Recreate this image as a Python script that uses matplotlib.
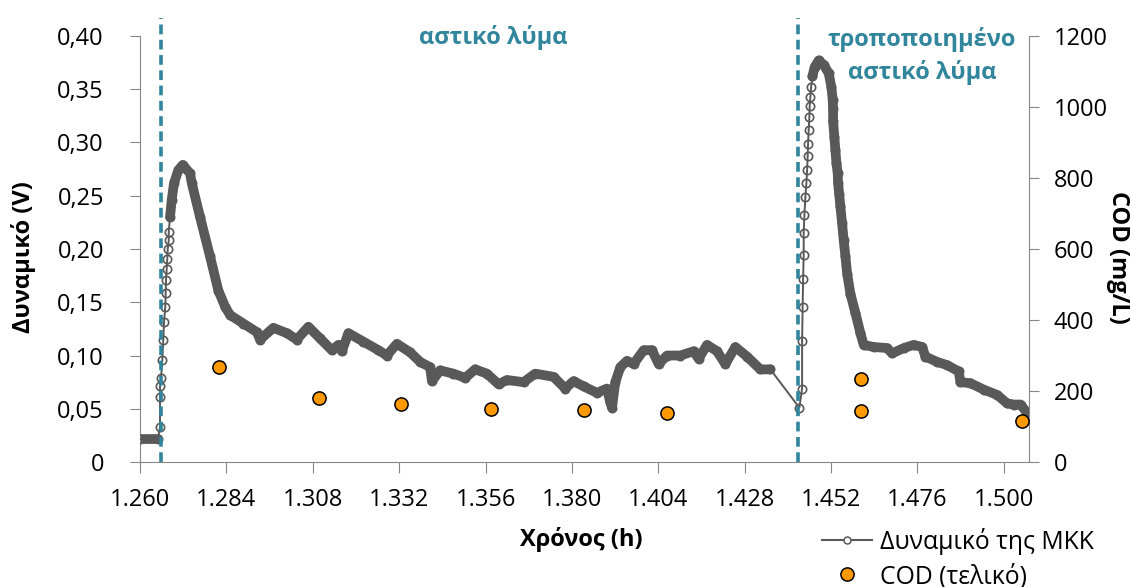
import matplotlib
matplotlib.use('Agg')
import matplotlib.pyplot as plt
from matplotlib.ticker import FuncFormatter, MultipleLocator
from matplotlib.lines import Line2D
import numpy as np

plt.rcParams['font.family'] = ['Open Sans', 'DejaVu Sans']
plt.rcParams['lines.scale_dashes'] = False

# MFC potential (V) vs time (h)
time_h = [1260.0, 1265.0, 1265.56, 1265.56, 1265.56, 1265.84, 1266.2, 1266.48, 1266.67,
          1267.03, 1267.14, 1267.23, 1267.42, 1267.59, 1267.70, 1267.98, 1267.98, 1268.34,
          1268.81, 1269.45, 1270.65, 1271.87, 1273.90, 1274.37, 1276.68, 1279.46, 1281.77,
          1283.63, 1285.02, 1288.72, 1292.44, 1293.36, 1297.06, 1300.78, 1303.56, 1306.79,
          1310.04, 1313.30, 1315.13, 1316.08, 1317.91, 1322.08, 1326.25, 1328.59, 1331.37,
          1335.06, 1337.84, 1340.62, 1341.10, 1343.40, 1347.10, 1350.35, 1353.13, 1356.39,
          1359.61, 1361.95, 1366.56, 1369.81, 1374.90, 1378.15, 1380.46, 1383.24, 1386.97,
          1389.75, 1390.67, 1391.14, 1392.06, 1393.45, 1395.31, 1397.15, 1399.93, 1402.26,
          1404.10, 1406.43, 1410.12, 1413.82, 1415.21, 1417.55, 1420.33, 1422.63, 1425.41,
          1428.67, 1432.36, 1435.15, 1443.2, 1443.96, 1443.96, 1444.12, 1444.24, 1444.40,
          1444.40, 1444.60, 1444.88, 1445.15, 1445.35, 1445.51, 1445.62, 1445.79, 1445.98,
          1446.07, 1446.26, 1446.46, 1446.82, 1447.46, 1448.57, 1449.96, 1451.35, 1452.10,
          1452.46, 1452.57, 1452.57, 1452.94, 1453.21, 1453.49, 1453.85, 1453.96, 1454.24,
          1454.60, 1455.08, 1455.52, 1456.0, 1456.47, 1457.38, 1458.77, 1460.16, 1461.08,
          1463.86, 1467.58, 1468.97, 1472.20, 1474.98, 1477.32, 1478.23, 1481.49, 1484.27,
          1487.49, 1487.96, 1490.75, 1494.44, 1498.17, 1500.95, 1502.79, 1504.65, 1506.51]
potential_v = [0.0216, 0.0216, 0.033, 0.061, 0.071, 0.079, 0.096, 0.115, 0.131,
               0.146, 0.159, 0.171, 0.181, 0.191, 0.200, 0.208, 0.216, 0.230,
               0.246, 0.262, 0.274, 0.279, 0.271, 0.262, 0.230, 0.193, 0.161,
               0.146, 0.138, 0.130, 0.122, 0.115, 0.126, 0.121, 0.115, 0.127,
               0.116, 0.105, 0.110, 0.104, 0.121, 0.113, 0.105, 0.100, 0.111,
               0.103, 0.094, 0.089, 0.076, 0.086, 0.083, 0.079, 0.087, 0.083,
               0.073, 0.077, 0.075, 0.083, 0.080, 0.069, 0.076, 0.071, 0.065,
               0.069, 0.056, 0.051, 0.075, 0.089, 0.095, 0.092, 0.105, 0.105,
               0.092, 0.100, 0.100, 0.104, 0.097, 0.110, 0.104, 0.092, 0.108,
               0.099, 0.087, 0.087, 0.051, 0.069, 0.114, 0.146, 0.172, 0.194,
               0.215, 0.232, 0.249, 0.262, 0.274, 0.287, 0.299, 0.312, 0.324,
               0.334, 0.343, 0.352, 0.362, 0.371, 0.377, 0.373, 0.365, 0.352,
               0.340, 0.331, 0.320, 0.305, 0.293, 0.281, 0.271, 0.262, 0.252,
               0.240, 0.224, 0.208, 0.193, 0.177, 0.158, 0.140, 0.121, 0.110,
               0.108, 0.107, 0.102, 0.107, 0.110, 0.108, 0.099, 0.094, 0.091,
               0.085, 0.075, 0.074, 0.068, 0.063, 0.055, 0.054, 0.054, 0.046]

# final COD (mg/L)
cod_time_h = [1282.0, 1309.7, 1332.5, 1357.5, 1383.4, 1406.5, 1460.2, 1460.2, 1505.2]
cod_mgL = [268, 179, 164, 148, 146, 139, 234, 143, 115]

phase_start_h = [1265.9, 1442.7]
phase_labels = ['αστικό λύμα', 'τροποποιημένο\nαστικό λύμα']
phase_label_x = [1358.1, 1477.3]
phase_label_y = [0.3986, 0.3810]

gray = '#595959'
axis_col = '#868686'
teal = '#31859C'
fs = 17

fig = plt.figure(figsize=(11.3, 5.87), dpi=100)
ax = fig.add_axes([0.1239, 0.2129, 0.7867, 0.7258])

t = np.array(time_h)
v = np.array(potential_v)
# dense logging -> overlapping markers form a solid band
dense = (t <= 1265.0) | ((t >= 1268.0) & (t <= 1435.2)) | (t >= 1446.5)
ax.plot(t, np.where(dense, v, np.nan), color=gray, lw=7,
        solid_capstyle='round', solid_joinstyle='round', zorder=2)
ax.plot(t, v, color=gray, lw=1.4, marker='o', ms=6, mfc='none',
        mec=gray, mew=1.2, zorder=3)

for x0 in phase_start_h:
    ax.axvline(x0, ymin=0, ymax=1.042, color=teal, lw=2.6,
               linestyle=(0, (7, 4)), clip_on=False, zorder=4)
for lab, lx, ly in zip(phase_labels, phase_label_x, phase_label_y):
    ax.text(lx, ly, lab, color=teal, fontsize=fs, fontweight='bold',
            ha='center', va='center', linespacing=1.4)

ax.set_xlim(1260, 1507)
ax.set_ylim(0, 0.40)
ax.set_xticks(np.arange(1260, 1501, 24))
ax.yaxis.set_major_locator(MultipleLocator(0.05))
ax.xaxis.set_major_formatter(FuncFormatter(lambda x, p: f'{int(round(x)):,}'.replace(',', '.')))
ax.yaxis.set_major_formatter(FuncFormatter(
    lambda y, p: '0' if abs(y) < 1e-9 else f'{y:.2f}'.replace('.', ',')))

ax2 = ax.twinx()
ax2.plot(cod_time_h, cod_mgL, 'o', color='#FF9900', mec='black', mew=1.1,
         ms=9.5, ls='none', zorder=5)
ax2.set_ylim(0, 1200)
ax2.yaxis.set_major_locator(MultipleLocator(200))

for a in (ax, ax2):
    a.spines['top'].set_visible(False)
    for s in a.spines.values():
        s.set_color(axis_col)
ax.spines['right'].set_visible(False)
ax2.spines['left'].set_visible(False)
ax2.spines['bottom'].set_visible(False)

ax.tick_params(axis='y', length=7, color=axis_col, pad=19, labelsize=fs)
ax.tick_params(axis='x', length=8, color=axis_col, pad=11, labelsize=fs)
ax2.tick_params(axis='y', length=7, color=axis_col, pad=11, labelsize=fs)

ax.set_ylabel('Δυναμικό (V)', fontsize=fs, fontweight='bold')
ax.yaxis.label.set(va='center', ha='center')
ax.yaxis.set_label_coords(-0.1316, 0.481)
ax.set_xlabel('Χρόνος (h)', fontsize=fs, fontweight='bold')
ax.xaxis.label.set(va='center', ha='center')
ax.xaxis.set_label_coords(0.496, -0.183)
ax2.set_ylabel('COD (mg/L)', fontsize=fs, fontweight='bold', rotation=270)
ax2.yaxis.label.set(va='center', ha='center')
ax2.yaxis.set_label_coords(1.100, 0.481)

handles = [Line2D([], [], color=gray, lw=1.5, marker='o', ms=5, mfc='white', mec=gray, mew=1.1),
           Line2D([], [], ls='none', marker='o', color='#FF9900', mec='black', mew=1.1, ms=9.5)]
fig.legend(handles, ['Δυναμικό της ΜΚΚ', 'COD (τελικό)'], loc='upper left',
           bbox_to_anchor=(0.727, 0.101), frameon=False, fontsize=17.8,
           handlelength=2.05, handletextpad=0.3, labelspacing=0.36,
           borderaxespad=0, borderpad=0)

fig.savefig('out.png', dpi=100)
